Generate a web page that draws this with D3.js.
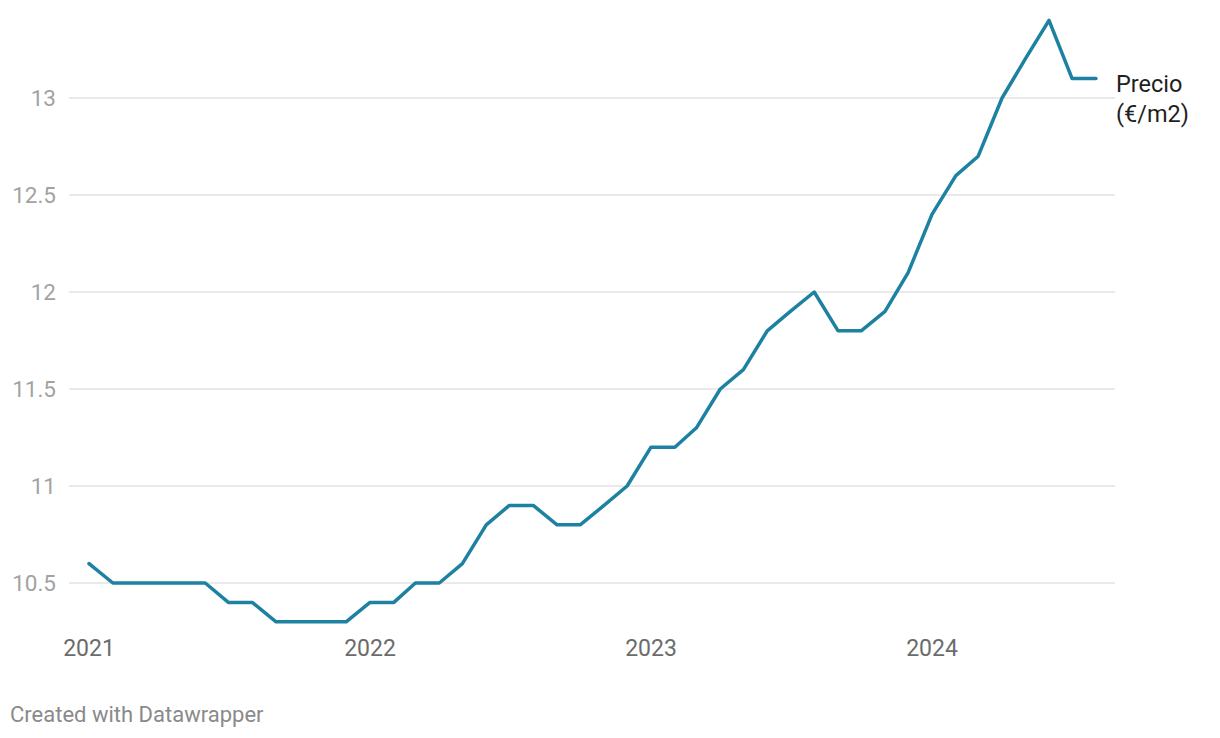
<!DOCTYPE html>
<html><head><meta charset="utf-8">
<script src="https://cdn.jsdelivr.net/npm/d3@7"></script>
<style>body{margin:0;background:#fff;font-family:Roboto,sans-serif;}</style>
</head><body><svg id="c" width="1220" height="738"></svg>
<script>
const months = ["2021-01","2021-02","2021-03","2021-04","2021-05","2021-06","2021-07","2021-08","2021-09","2021-10","2021-11","2021-12",
"2022-01","2022-02","2022-03","2022-04","2022-05","2022-06","2022-07","2022-08","2022-09","2022-10","2022-11","2022-12",
"2023-01","2023-02","2023-03","2023-04","2023-05","2023-06","2023-07","2023-08","2023-09","2023-10","2023-11","2023-12",
"2024-01","2024-02","2024-03","2024-04","2024-05","2024-06","2024-07","2024-08"];
const precio = [10.6,10.5,10.5,10.5,10.5,10.5,10.4,10.4,10.3,10.3,10.3,10.3,
10.4,10.4,10.5,10.5,10.6,10.8,10.9,10.9,10.8,10.8,10.9,11.0,
11.2,11.2,11.3,11.5,11.6,11.8,11.9,12.0,11.8,11.8,11.9,12.1,
12.4,12.6,12.7,13.0,13.2,13.4,13.1,13.1];
const yTicks = [10.5,11,11.5,12,12.5,13];
const yTickLabels = ["10.5","11","11.5","12","12.5","13"];
const xTicks = ["2021-01","2022-01","2023-01","2024-01"];
const xTickLabels = ["2021","2022","2023","2024"];
const seriesLabel = ["Precio","(€/m2)"];

const parse = d3.timeParse("%Y-%m");
const data = months.map((m,i)=>({date:parse(m),v:precio[i]}));
const svg = d3.select("#c");
const x = d3.scaleTime().domain([parse("2021-01"),parse("2024-01")]).range([89,932]);
const y = d3.scaleLinear().domain([10.5,13]).range([583,98]);

const grid = svg.append("g");
grid.selectAll("line").data(yTicks).join("line")
  .attr("x1",69).attr("x2",1115).attr("y1",d=>y(d)).attr("y2",d=>y(d))
  .attr("stroke","#e3e3e3").attr("stroke-width",1.3);
svg.append("g").selectAll("text").data(yTicks).join("text")
  .attr("x",56).attr("y",d=>y(d)).attr("dy","0.35em").attr("text-anchor","end")
  .attr("font-size",22.5).attr("fill","#a2a2a2").text((d,i)=>yTickLabels[i]);

svg.append("g").selectAll("text").data(xTicks).join("text")
  .attr("x",d=>x(parse(d))).attr("y",656).attr("text-anchor","middle")
  .attr("font-size",23).attr("fill","#6b6b6b").text((d,i)=>xTickLabels[i]);

svg.append("path").datum(data)
  .attr("d",d3.line().x(d=>x(d.date)).y(d=>y(d.v)))
  .attr("fill","none").attr("stroke","#1d81a2").attr("stroke-width",3.5)
  .attr("stroke-linejoin","round").attr("stroke-linecap","round");

const last = data[data.length-1];
svg.append("text").attr("x",1116).attr("y",y(last.v)+13).attr("font-size",23.5).attr("fill","#1f1f1f")
  .selectAll("tspan").data(seriesLabel).join("tspan")
  .attr("x",1116).attr("dy",(d,i)=>i?30:0).text(d=>d);

svg.append("text").attr("x",10).attr("y",722).attr("font-size",22).attr("fill","#8a8a8a")
  .text("Created with Datawrapper");
</script></body></html>
